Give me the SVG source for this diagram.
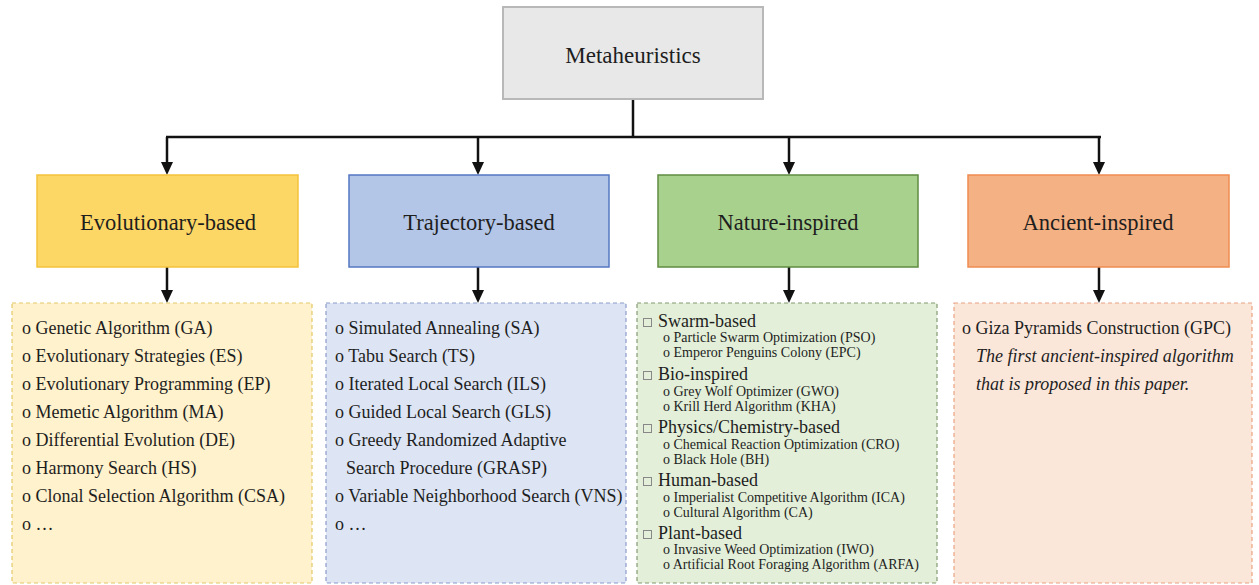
<svg xmlns="http://www.w3.org/2000/svg" width="1259" height="585" viewBox="0 0 1259 585" font-family="'Liberation Serif','Times New Roman',serif">
<style>
text{font-family:"Liberation Serif","Times New Roman",serif;fill:#1e1e1e}
.hd{font-size:22.5px;text-anchor:middle}
.it{font-size:18px}
.sh{font-size:18px}
.sb{font-size:14px}
.em{font-size:18px;font-style:italic}
.con{stroke:#111;stroke-width:2.5;fill:none}
.ah{fill:#111}
.lst{stroke-width:1.2;stroke-dasharray:4 3}
</style>
<rect width="1259" height="585" fill="#ffffff"/>
<g id="connectors">
<line class="con" x1="633" y1="99" x2="633" y2="137"/>
<line class="con" x1="166" y1="137" x2="1101" y2="137"/>
<path class="con" d="M167,137 V164"/><path class="ah" d="M161,162 L173,162 L167,175 Z"/>
<path class="con" d="M478,137 V164"/><path class="ah" d="M472,162 L484,162 L478,175 Z"/>
<path class="con" d="M789,137 V164"/><path class="ah" d="M783,162 L795,162 L789,175 Z"/>
<path class="con" d="M1099,137 V164"/><path class="ah" d="M1093,162 L1105,162 L1099,175 Z"/>
<path class="con" d="M167,267 V292"/><path class="ah" d="M161,290 L173,290 L167,303 Z"/>
<path class="con" d="M478,267 V292"/><path class="ah" d="M472,290 L484,290 L478,303 Z"/>
<path class="con" d="M789,267 V292"/><path class="ah" d="M783,290 L795,290 L789,303 Z"/>
<path class="con" d="M1099,267 V292"/><path class="ah" d="M1093,290 L1105,290 L1099,303 Z"/>
</g>
<g id="metaheuristics">
<rect x="503" y="7" width="260" height="92" fill="#e8e8e8" stroke="#b8b8b8" stroke-width="2"/>
<text x="633" y="63" font-size="23" text-anchor="middle">Metaheuristics</text>
</g>
<g id="evolutionary">
<rect x="37" y="175" width="261" height="92" fill="#fdd766" stroke="#f3c23c" stroke-width="1.5"/>
<text class="hd" x="168" y="230">Evolutionary-based</text>
</g>
<g id="trajectory">
<rect x="349" y="175" width="260" height="92" fill="#b3c6e7" stroke="#5577c2" stroke-width="1.5"/>
<text class="hd" x="479" y="230">Trajectory-based</text>
</g>
<g id="nature">
<rect x="658" y="175" width="260" height="92" fill="#a9d18e" stroke="#5f8c42" stroke-width="1.5"/>
<text class="hd" x="788" y="230">Nature-inspired</text>
</g>
<g id="ancient">
<rect x="968" y="175" width="261" height="92" fill="#f4b183" stroke="#ef8c52" stroke-width="1.5"/>
<text class="hd" x="1098" y="230">Ancient-inspired</text>
</g>
<g id="evolutionary-list">
<rect class="lst" x="12" y="303" width="300" height="280" fill="#fff2cc" stroke="#e3c868"/>
<text class="it" x="22" y="334">o Genetic Algorithm (GA)</text>
<text class="it" x="22" y="362">o Evolutionary Strategies (ES)</text>
<text class="it" x="22" y="390">o Evolutionary Programming (EP)</text>
<text class="it" x="22" y="418">o Memetic Algorithm (MA)</text>
<text class="it" x="22" y="446">o Differential Evolution (DE)</text>
<text class="it" x="22" y="474">o Harmony Search (HS)</text>
<text class="it" x="22" y="502">o Clonal Selection Algorithm (CSA)</text>
<text class="it" x="22" y="530">o …</text>
</g>
<g id="trajectory-list">
<rect class="lst" x="326" y="303" width="300" height="280" fill="#dde5f4" stroke="#8c9ccc"/>
<text class="it" x="335" y="334">o Simulated Annealing (SA)</text>
<text class="it" x="335" y="362">o Tabu Search (TS)</text>
<text class="it" x="335" y="390">o Iterated Local Search (ILS)</text>
<text class="it" x="335" y="418">o Guided Local Search (GLS)</text>
<text class="it" x="335" y="446">o Greedy Randomized Adaptive</text>
<text class="it" x="346" y="474">Search Procedure (GRASP)</text>
<text class="it" x="335" y="502">o Variable Neighborhood Search (VNS)</text>
<text class="it" x="335" y="530">o …</text>
</g>
<g id="nature-list">
<rect class="lst" x="637" y="303" width="300" height="280" fill="#e3efd9" stroke="#849a72"/>
<g fill="none" stroke="#888" stroke-width="1">
<rect x="643.5" y="318.5" width="8" height="8"/>
<rect x="643.5" y="371.5" width="8" height="8"/>
<rect x="643.5" y="424.5" width="8" height="8"/>
<rect x="643.5" y="477.5" width="8" height="8"/>
<rect x="643.5" y="530.5" width="8" height="8"/>
</g>
<text class="sh" x="658" y="327">Swarm-based</text>
<text class="sb" x="663" y="342">o  Particle Swarm Optimization (PSO)</text>
<text class="sb" x="663" y="357">o  Emperor Penguins Colony (EPC)</text>
<text class="sh" x="658" y="380">Bio-inspired</text>
<text class="sb" x="663" y="396">o  Grey Wolf Optimizer (GWO)</text>
<text class="sb" x="663" y="411">o  Krill Herd Algorithm (KHA)</text>
<text class="sh" x="658" y="433">Physics/Chemistry-based</text>
<text class="sb" x="663" y="449">o  Chemical Reaction Optimization (CRO)</text>
<text class="sb" x="663" y="464">o  Black Hole (BH)</text>
<text class="sh" x="658" y="486">Human-based</text>
<text class="sb" x="663" y="502">o  Imperialist Competitive Algorithm (ICA)</text>
<text class="sb" x="663" y="517">o  Cultural Algorithm (CA)</text>
<text class="sh" x="658" y="539">Plant-based</text>
<text class="sb" x="663" y="554">o  Invasive Weed Optimization (IWO)</text>
<text class="sb" x="663" y="569">o  Artificial Root Foraging Algorithm (ARFA)</text>
</g>
<g id="ancient-list">
<rect class="lst" x="954" y="303" width="298" height="280" fill="#fbe7da" stroke="#eaa282"/>
<text class="it" x="962" y="334">o Giza Pyramids Construction (GPC)</text>
<text class="em" x="976" y="362">The first ancient-inspired algorithm</text>
<text class="em" x="976" y="390">that is proposed in this paper.</text>
</g>
</svg>
